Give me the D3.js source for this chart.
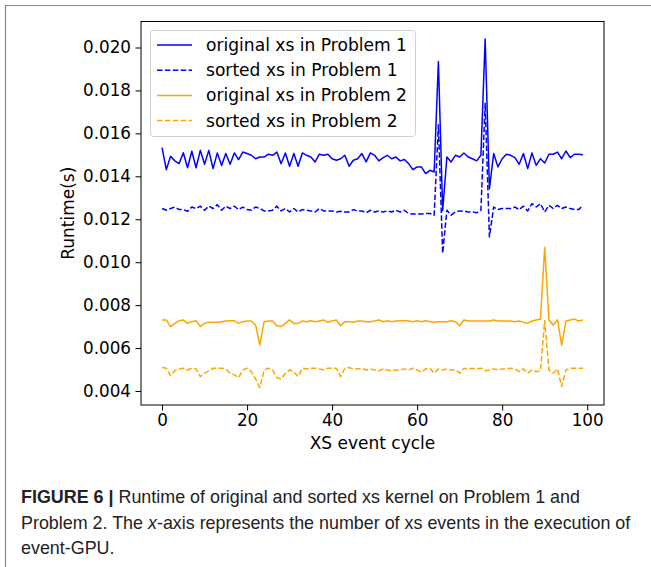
<!DOCTYPE html>
<html>
<head>
<meta charset="utf-8">
<script src="https://cdn.jsdelivr.net/npm/d3@7"></script>
<style>
  html, body { margin: 0; padding: 0; background: #fff; }
  svg { display: block; }
  .tick text { font-family: "DejaVu Sans", sans-serif; font-size: 16.8px; fill: #000; }
</style>
</head>
<body>
<svg id="chart" width="651" height="567"></svg>
<script>
// xs event cycles 0..99
var cycles = d3.range(0, 100);

var origP1 = [
  0.01534, 0.01431, 0.01493, 0.01472, 0.01459, 0.01510, 0.01440, 0.01517, 0.01440, 0.01521,
  0.01456, 0.01521, 0.01436, 0.01509, 0.01451, 0.01506, 0.01456, 0.01509, 0.01478, 0.01513,
  0.01506, 0.01498, 0.01482, 0.01490, 0.01490, 0.01503, 0.01498, 0.01513, 0.01459, 0.01509,
  0.01447, 0.01506, 0.01447, 0.01509, 0.01498, 0.01490, 0.01467, 0.01503, 0.01498, 0.01503,
  0.01482, 0.01475, 0.01482, 0.01498, 0.01447, 0.01475, 0.01482, 0.01506, 0.01467, 0.01509,
  0.01498, 0.01472, 0.01487, 0.01498, 0.01482, 0.01490, 0.01472, 0.01478, 0.01459, 0.01431,
  0.01444, 0.01444, 0.01413, 0.01428, 0.01420, 0.01935, 0.01240, 0.01490, 0.01467, 0.01498,
  0.01490, 0.01509, 0.01490, 0.01482, 0.01472, 0.01498, 0.02040, 0.01342, 0.01506, 0.01444,
  0.01482, 0.01503, 0.01498, 0.01487, 0.01456, 0.01506, 0.01436, 0.01509, 0.01451, 0.01482,
  0.01462, 0.01503, 0.01503, 0.01513, 0.01482, 0.01518, 0.01487, 0.01503, 0.01503, 0.01501
];

var sortedP1 = [
  0.01250, 0.01242, 0.01250, 0.01257, 0.01245, 0.01245, 0.01237, 0.01257, 0.01250, 0.01261,
  0.01242, 0.01261, 0.01250, 0.01268, 0.01242, 0.01261, 0.01250, 0.01261, 0.01245, 0.01257,
  0.01245, 0.01242, 0.01257, 0.01250, 0.01239, 0.01239, 0.01242, 0.01261, 0.01239, 0.01250,
  0.01234, 0.01250, 0.01234, 0.01245, 0.01242, 0.01239, 0.01234, 0.01250, 0.01239, 0.01239,
  0.01239, 0.01234, 0.01237, 0.01234, 0.01234, 0.01245, 0.01239, 0.01239, 0.01230, 0.01242,
  0.01234, 0.01239, 0.01234, 0.01239, 0.01234, 0.01242, 0.01234, 0.01242, 0.01227, 0.01224,
  0.01224, 0.01224, 0.01227, 0.01227, 0.01219, 0.01640, 0.01042, 0.01242, 0.01219, 0.01234,
  0.01239, 0.01239, 0.01234, 0.01234, 0.01230, 0.01242, 0.01740, 0.01118, 0.01257, 0.01245,
  0.01250, 0.01250, 0.01250, 0.01257, 0.01245, 0.01261, 0.01239, 0.01273, 0.01257, 0.01273,
  0.01234, 0.01265, 0.01250, 0.01265, 0.01250, 0.01257, 0.01250, 0.01245, 0.01245, 0.01265
];

var origP2 = [
  0.00731, 0.00731, 0.00700, 0.00715, 0.00727, 0.00731, 0.00715, 0.00723, 0.00727, 0.00700,
  0.00715, 0.00720, 0.00720, 0.00720, 0.00723, 0.00726, 0.00727, 0.00727, 0.00715, 0.00723,
  0.00726, 0.00726, 0.00707, 0.00614, 0.00723, 0.00726, 0.00726, 0.00704, 0.00700, 0.00715,
  0.00731, 0.00715, 0.00715, 0.00726, 0.00723, 0.00727, 0.00723, 0.00726, 0.00731, 0.00720,
  0.00726, 0.00731, 0.00704, 0.00723, 0.00723, 0.00720, 0.00726, 0.00726, 0.00723, 0.00723,
  0.00726, 0.00731, 0.00723, 0.00727, 0.00723, 0.00726, 0.00727, 0.00727, 0.00726, 0.00723,
  0.00727, 0.00723, 0.00727, 0.00723, 0.00720, 0.00723, 0.00723, 0.00723, 0.00727, 0.00723,
  0.00704, 0.00731, 0.00726, 0.00726, 0.00726, 0.00726, 0.00726, 0.00726, 0.00731, 0.00726,
  0.00726, 0.00726, 0.00726, 0.00723, 0.00726, 0.00720, 0.00715, 0.00726, 0.00731, 0.00735,
  0.01069, 0.00731, 0.00707, 0.00731, 0.00614, 0.00726, 0.00731, 0.00735, 0.00726, 0.00731
];

var sortedP2 = [
  0.00509, 0.00506, 0.00472, 0.00494, 0.00503, 0.00506, 0.00498, 0.00506, 0.00503, 0.00467,
  0.00483, 0.00494, 0.00506, 0.00506, 0.00506, 0.00503, 0.00483, 0.00475, 0.00462, 0.00498,
  0.00506, 0.00490, 0.00456, 0.00416, 0.00498, 0.00506, 0.00498, 0.00462, 0.00456, 0.00483,
  0.00498, 0.00490, 0.00467, 0.00506, 0.00503, 0.00506, 0.00506, 0.00503, 0.00498, 0.00506,
  0.00506, 0.00506, 0.00467, 0.00506, 0.00509, 0.00503, 0.00503, 0.00506, 0.00498, 0.00503,
  0.00498, 0.00494, 0.00503, 0.00498, 0.00494, 0.00498, 0.00498, 0.00503, 0.00498, 0.00506,
  0.00498, 0.00487, 0.00503, 0.00506, 0.00483, 0.00503, 0.00498, 0.00503, 0.00498, 0.00498,
  0.00483, 0.00506, 0.00503, 0.00506, 0.00503, 0.00506, 0.00494, 0.00498, 0.00503, 0.00498,
  0.00503, 0.00503, 0.00506, 0.00503, 0.00490, 0.00503, 0.00483, 0.00498, 0.00490, 0.00494,
  0.00728, 0.00498, 0.00483, 0.00503, 0.00421, 0.00498, 0.00506, 0.00506, 0.00506, 0.00506
];

var seriesNames = ['original xs in Problem 1', 'sorted xs in Problem 1',
                   'original xs in Problem 2', 'sorted xs in Problem 2'];
var seriesColors = ['#0000ff', '#0000ff', '#ffa500', '#ffa500'];
var seriesDashed = [false, true, false, true];

var xTicks = [0, 20, 40, 60, 80, 100];
var yTicks = [0.004, 0.006, 0.008, 0.010, 0.012, 0.014, 0.016, 0.018, 0.020];

var series = [origP1, sortedP1, origP2, sortedP2].map(function(vals, i){
    return {name: seriesNames[i], color: seriesColors[i], dashed: seriesDashed[i], values: vals};
});

var svg = d3.select('#chart');

// panel frame (top and left rule of the page)
svg.append('line').attr('x1', 5).attr('x2', 651).attr('y1', 5.5).attr('y2', 5.5)
    .style('stroke', '#8a8a8a').style('stroke-width', 1.2);
svg.append('line').attr('x1', 5.5).attr('x2', 5.5).attr('y1', 5).attr('y2', 567)
    .style('stroke', '#8a8a8a').style('stroke-width', 1.2);

var plot = {left: 141, right: 604, top: 21.5, bottom: 405};

// matplotlib style 5% margins
var allVals = [].concat(origP1, sortedP1, origP2, sortedP2);
var yMin = d3.min(allVals), yMax = d3.max(allVals), yPad = (yMax - yMin) * 0.05;
var xPad = (cycles[cycles.length - 1] - cycles[0]) * 0.05;

var x = d3.scaleLinear()
    .domain([cycles[0] - xPad, cycles[cycles.length - 1] + xPad])
    .range([plot.left, plot.right]);
var y = d3.scaleLinear()
    .domain([yMin - yPad, yMax + yPad])
    .range([plot.bottom, plot.top]);

var line = d3.line()
    .x(function(d, i){ return x(cycles[i]); })
    .y(function(d){ return y(d); });

var g = svg.append('g');
g.selectAll('path.series')
    .data(series)
    .enter()
    .append('path')
    .attr('class', 'series')
    .attr('d', function(s){ return line(s.values); })
    .style('fill', 'none')
    .style('stroke', function(s){ return s.color; })
    .style('stroke-width', 1.5)
    .style('stroke-linejoin', 'round')
    .style('stroke-dasharray', function(s){ return s.dashed ? '5.5,2.4' : null; });

// axes
var xAxis = svg.append('g')
    .attr('transform', 'translate(0,' + plot.bottom + ')')
    .call(d3.axisBottom(x).tickValues(xTicks).tickSize(5.5).tickPadding(4).tickFormat(d3.format('d')));
var yAxis = svg.append('g')
    .attr('transform', 'translate(' + plot.left + ',0)')
    .call(d3.axisLeft(y).tickValues(yTicks).tickSize(5.5).tickPadding(4.5).tickFormat(d3.format('.3f')));
[xAxis, yAxis].forEach(function(a){
    a.select('.domain').remove();
    a.selectAll('.tick line').style('stroke', '#000').style('stroke-width', 1);
});

// spines
svg.append('rect')
    .attr('x', plot.left).attr('y', plot.top)
    .attr('width', plot.right - plot.left).attr('height', plot.bottom - plot.top)
    .style('fill', 'none').style('stroke', '#000').style('stroke-width', 1);

// axis labels
svg.append('text')
    .attr('x', (plot.left + plot.right) / 2).attr('y', 449)
    .attr('text-anchor', 'middle')
    .style('font-family', '"DejaVu Sans", sans-serif').style('font-size', '17px')
    .text('XS event cycle');
svg.append('text')
    .attr('transform', 'translate(74,' + (plot.top + plot.bottom) / 2 + ') rotate(-90)')
    .attr('text-anchor', 'middle')
    .style('font-family', '"DejaVu Sans", sans-serif').style('font-size', '17px')
    .text('Runtime(s)');

// legend
var legend = svg.append('g');
legend.append('rect')
    .attr('x', 150.5).attr('y', 30.5).attr('width', 265).attr('height', 106)
    .attr('rx', 3)
    .style('fill', '#fff').style('fill-opacity', 0.8)
    .style('stroke', '#d0d0d0').style('stroke-width', 1);
var items = legend.selectAll('g.item')
    .data(series)
    .enter()
    .append('g')
    .attr('class', 'item')
    .attr('transform', function(d, i){ return 'translate(0,' + (45 + i * 25.2) + ')'; });
items.append('line')
    .attr('x1', 157).attr('x2', 192).attr('y1', 0).attr('y2', 0)
    .style('stroke', function(s){ return s.color; })
    .style('stroke-width', 1.5)
    .style('stroke-dasharray', function(s){ return s.dashed ? '5.5,2.4' : null; });
items.append('text')
    .attr('x', 206).attr('y', 0).attr('dy', '0.35em')
    .style('font-family', '"DejaVu Sans", sans-serif').style('font-size', '17.1px')
    .text(function(s){ return s.name; });

// caption
var cap = svg.append('g')
    .style('font-family', '"Liberation Sans", Arial, sans-serif')
    .style('font-size', '17.9px').style('fill', '#222');
var l1 = cap.append('text').attr('x', 21).attr('y', 503);
l1.append('tspan').style('font-weight', 'bold').text('FIGURE 6 | ');
l1.append('tspan').text('Runtime of original and sorted xs kernel on Problem 1 and');
var l2 = cap.append('text').attr('x', 21).attr('y', 528.5);
l2.append('tspan').text('Problem 2. The ');
l2.append('tspan').style('font-style', 'italic').text('x');
l2.append('tspan').text('-axis represents the number of xs events in the execution of');
cap.append('text').attr('x', 21).attr('y', 554).text('event-GPU.');
</script>
</body>
</html>
